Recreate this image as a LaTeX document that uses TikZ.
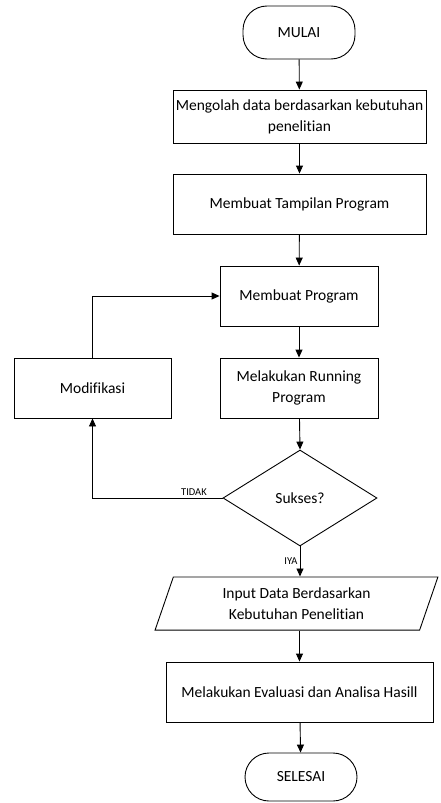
\documentclass[tikz,border=0pt]{standalone}
\usepackage{fontspec}
\setmainfont{Carlito}[Ligatures=NoCommon]
\usetikzlibrary{shapes.geometric,arrows.meta}

\tikzset{
  proses/.style={draw, rectangle, line width=0.9pt, align=center, inner sep=2pt,
    font=\fontsize{15.5}{21}\selectfont},
  terminal/.style={draw, rectangle, rounded corners=24pt, line width=0.9pt,
    minimum width=112pt, font=\fontsize{15.5}{21}\selectfont},
  keputusan/.style={draw, diamond, aspect=1.6, line width=0.9pt, inner sep=0pt,
    minimum width=154pt, minimum height=96pt, font=\fontsize{15.5}{21}\selectfont},
  masukan/.style={draw, trapezium, trapezium left angle=71, trapezium right angle=109,
    line width=0.9pt, align=center, minimum width=283pt, minimum height=53pt,
    inner sep=0pt, font=\fontsize{15.5}{21}\selectfont},
  panah/.style={line width=0.9pt, -{Triangle[length=8pt,width=7pt]}},
  ket/.style={font=\fontsize{10.5}{12}\selectfont, inner sep=2pt}
}

\begin{document}
\begin{tikzpicture}[x=1pt,y=1pt]
\useasboundingbox (0,0) rectangle (440,-803);

\node[terminal, minimum height=53pt] (mulai) at (299,-32.5) {MULAI};
\node[proses, minimum width=253pt, minimum height=53pt] (olah) at (299.5,-116.5)
  {Mengolah data berdasarkan kebutuhan\\penelitian};
\node[proses, minimum width=253pt, minimum height=60pt] (tampilan) at (299.5,-204)
  {Membuat Tampilan Program};
\node[proses, minimum width=158pt, minimum height=60pt] (program) at (299,-296)
  {Membuat Program};
\node[proses, minimum width=158pt, minimum height=60pt] (running) at (299,-388)
  {Melakukan Running\\Program};
\node[proses, minimum width=157pt, minimum height=60pt] (modif) at (92.5,-388)
  {Modifikasi};
\node[keputusan] (sukses) at (300,-498) {Sukses?};
\node[masukan] (input) at (296.5,-603.5)
  {Input Data Berdasarkan\\Kebutuhan Penelitian};
\node[proses, minimum width=267pt, minimum height=60pt] (evaluasi) at (299.5,-692)
  {Melakukan Evaluasi dan Analisa Hasill};
\node[terminal, minimum height=48pt] (selesai) at (301,-777) {SELESAI};

% alur utama
\draw[panah] (mulai) -- (olah);
\draw[panah] (olah) -- (tampilan);
\draw[panah] (tampilan) -- (program);
\draw[panah] (program) -- (running);
\draw[panah] (running) -- (sukses.north);
\draw[panah] (sukses.south) -- node[ket, left] {IYA} (sukses.south |- input.north);
\draw[panah] (evaluasi.north |- input.south) -- (evaluasi.north);
\draw[panah] (evaluasi) -- (selesai);

% perulangan
\draw[panah] (sukses.west) -- node[ket, above, pos=0.22] {TIDAK} (modif.south |- sukses.west) -- (modif.south);
\draw[panah] (modif.north) |- (program.west);
\end{tikzpicture}
\end{document}
